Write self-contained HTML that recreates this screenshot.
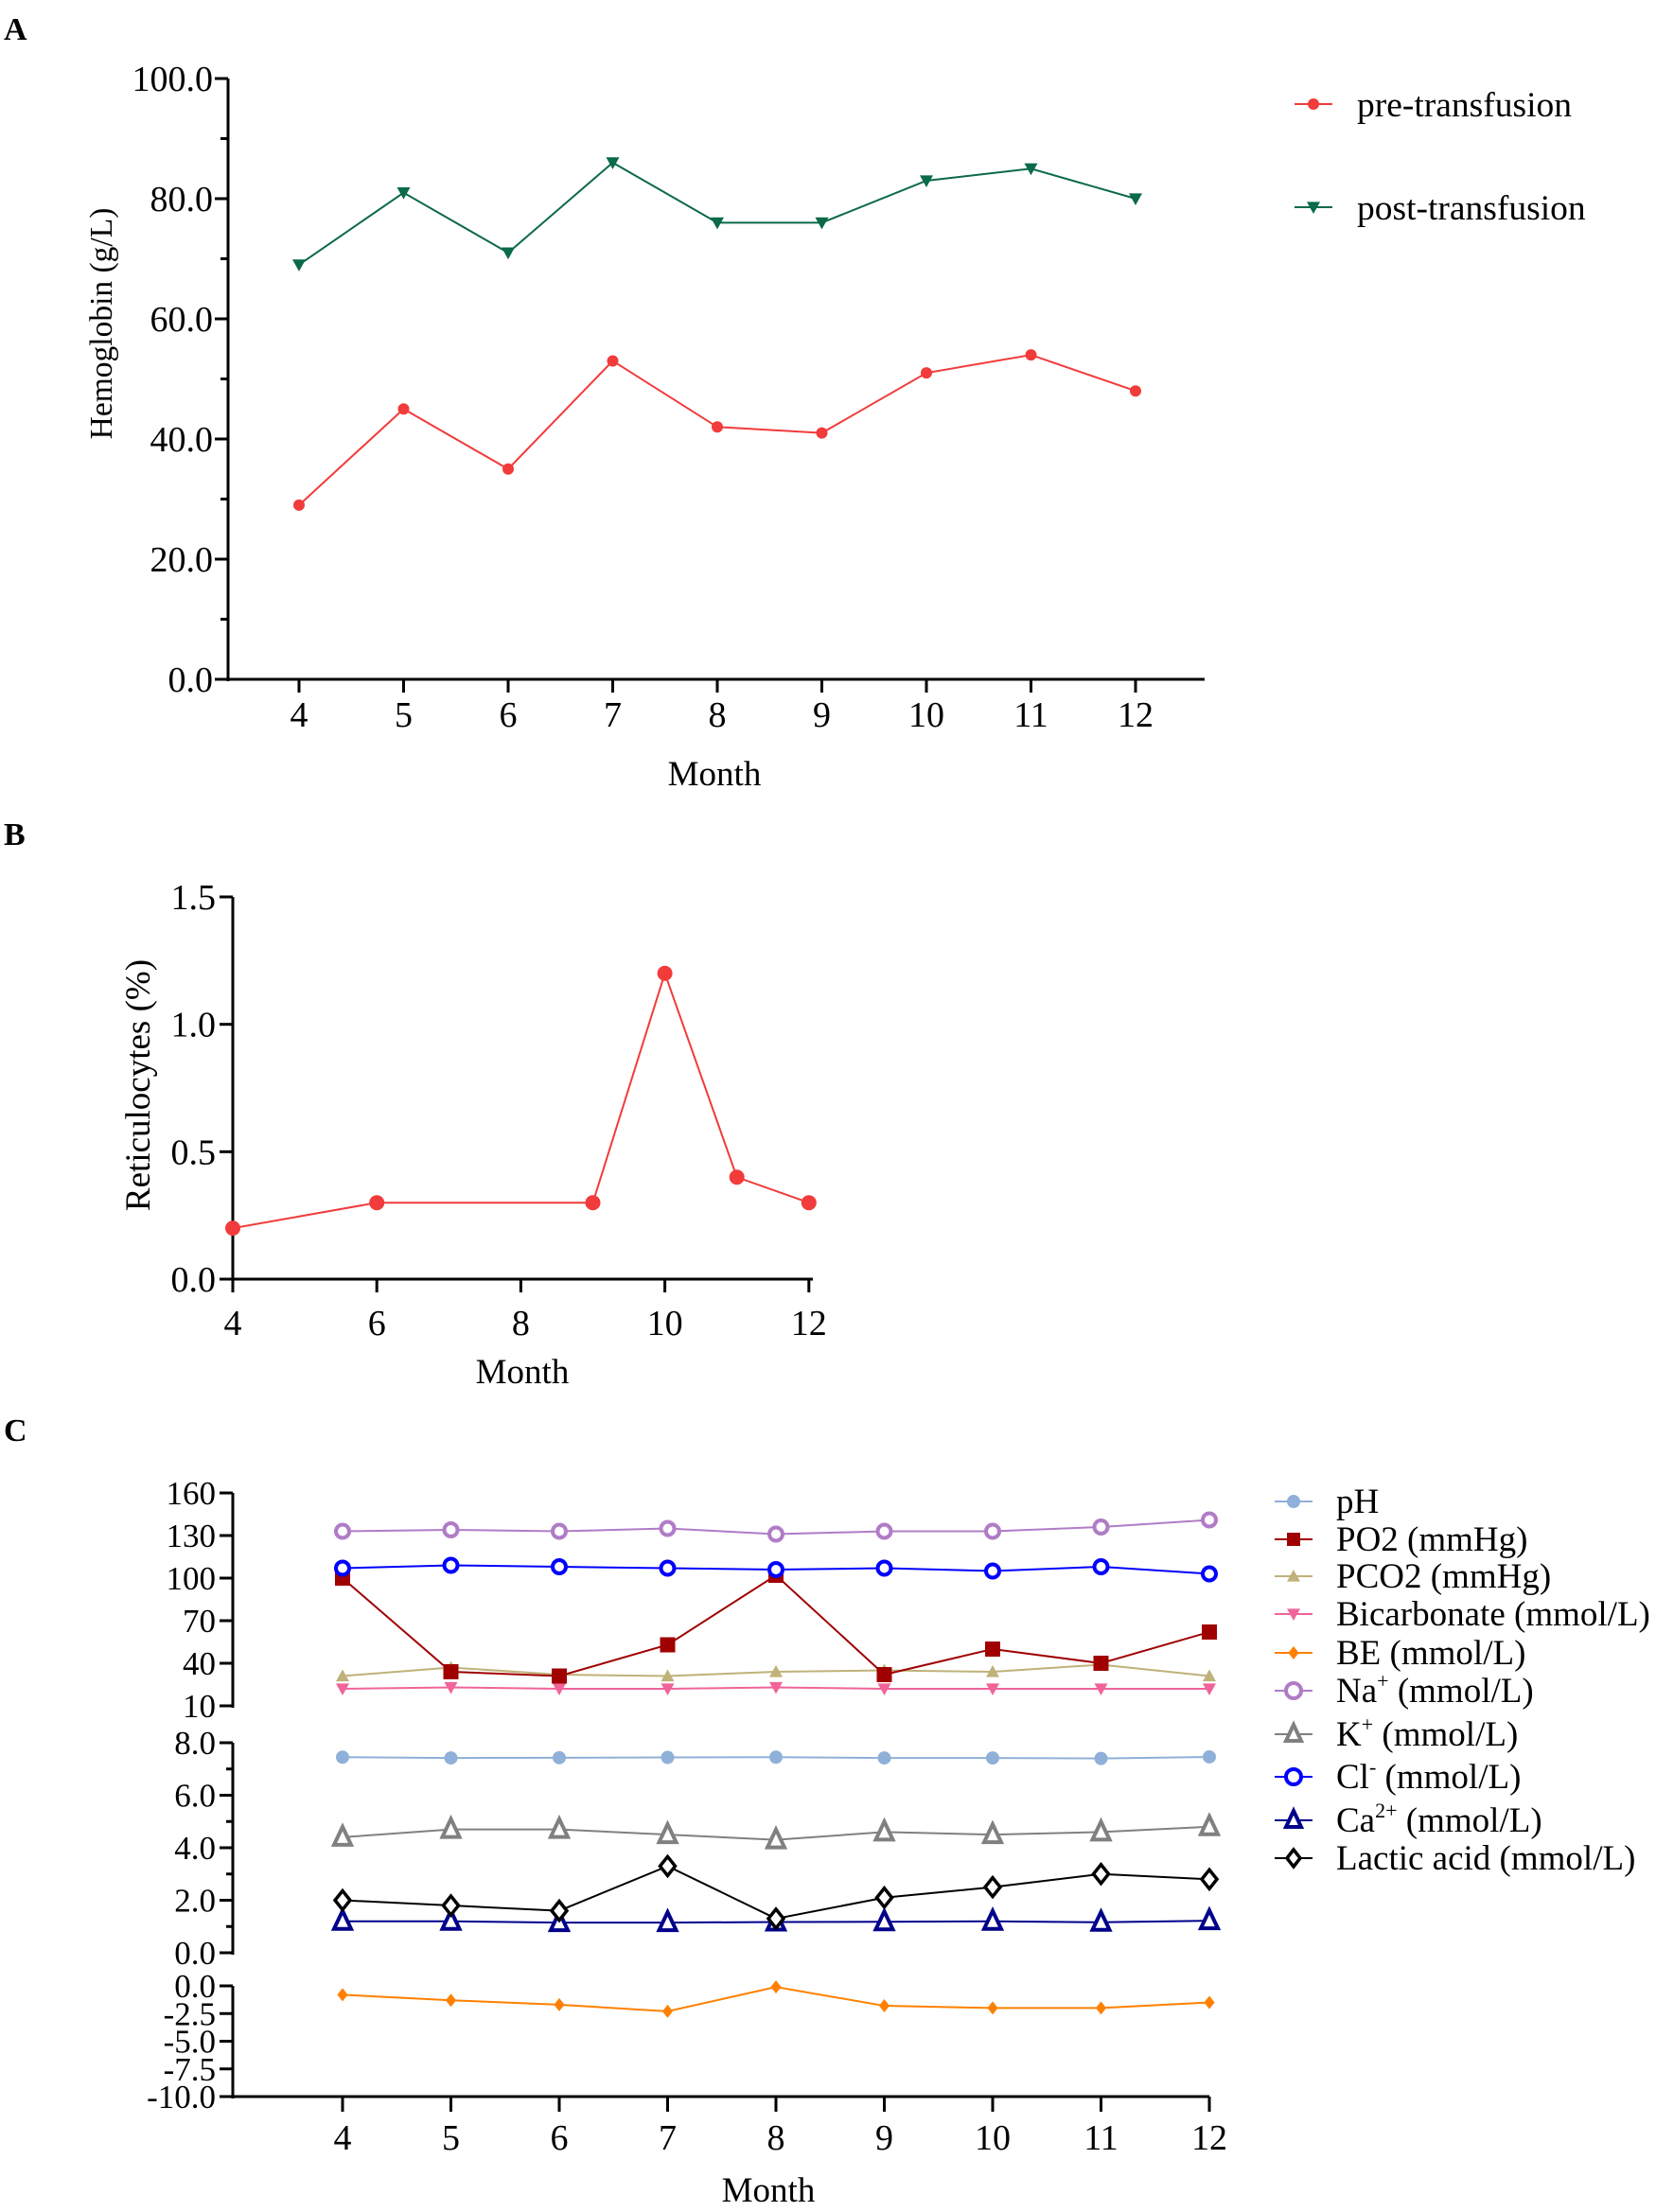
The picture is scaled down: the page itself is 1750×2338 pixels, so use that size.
<!DOCTYPE html>
<html><head><meta charset="utf-8"><style>
html,body{margin:0;padding:0;background:#fff}
svg{display:block}
text{font-family:"Liberation Serif",serif;fill:#000}
</style></head><body>
<svg id="s" width="1750" height="2338" xmlns="http://www.w3.org/2000/svg"></svg>
<script>
const S=document.getElementById('s');let h='';
function t(x,y,s,fs,anc,extra){h+=`<text x="${x}" y="${y}" font-size="${fs}" text-anchor="${anc||'start'}" ${extra||''}>${s}</text>`;}
function l(x1,y1,x2,y2,c,w){h+=`<line x1="${x1}" y1="${y1}" x2="${x2}" y2="${y2}" stroke="${c||'#000'}" stroke-width="${w||3}"/>`;}
function mk(type,x,y,c,r){r=r||7;
 if(type=='c')h+=`<circle cx="${x}" cy="${y}" r="${r}" fill="${c}"/>`;
 if(type=='oc')h+=`<circle cx="${x}" cy="${y}" r="${r+1}" fill="#fff" stroke="${c}" stroke-width="4"/>`;
 if(type=='s')h+=`<rect x="${x-r}" y="${y-r}" width="${2*r}" height="${2*r}" fill="${c}"/>`;
 if(type=='tu')h+=`<polygon points="${x},${y-r} ${x-r},${y+r*0.8} ${x+r},${y+r*0.8}" fill="${c}"/>`;
 if(type=='td')h+=`<polygon points="${x},${y+r} ${x-r},${y-r*0.8} ${x+r},${y-r*0.8}" fill="${c}"/>`;
 if(type=='ot')h+=`<polygon points="${x},${y-r-3} ${x-r-1},${y+r} ${x+r+1},${y+r}" fill="#fff" stroke="${c}" stroke-width="4"/>`;
 if(type=='d')h+=`<polygon points="${x},${y-r} ${x-r*0.8},${y} ${x},${y+r} ${x+r*0.8},${y}" fill="${c}"/>`;
 if(type=='od')h+=`<polygon points="${x},${y-r-2} ${x-r},${y} ${x},${y+r+2} ${x+r},${y}" fill="#fff" stroke="${c}" stroke-width="3.5"/>`;
}
function series(xs,ys,c,type,r,w){h+=`<polyline fill="none" stroke="${c}" stroke-width="${w||2}" points="${xs.map((x,i)=>x+','+ys[i]).join(' ')}"/>`;xs.forEach((x,i)=>mk(type,x,ys[i],c,r));}
const TF=38;
// Panel A
t(4,42,'A',34,'start','font-weight="bold"');
const ax=241,ay0=718,ay1=83,ys=(ay0-ay1)/100;
l(ax,ay1,ax,ay0+2);l(ax-2,ay0,1273,ay0);
for(let v=0;v<=100;v+=10){const y=ay0-v*ys;l(ax-(v%20?8:14),y,ax,y);if(v%20==0)t(ax-16,y+13,v.toFixed(1),TF,'end');}
const axX=i=>316+i*110.5;
for(let i=0;i<9;i++){l(axX(i),ay0,axX(i),ay0+14);t(axX(i),768,i+4,TF,'middle');}
t(755,830,'Month',37,'middle');
t(118,342,'Hemoglobin (g/L)',33.5,'middle','transform="rotate(-90 118 342)"');
const xsA=[...Array(9)].map((_,i)=>axX(i));
series(xsA,[69,81,71,86,76,76,83,85,80].map(v=>ay0-v*ys),'#0b6a47','td',7);
series(xsA,[29,45,35,53,42,41,51,54,48].map(v=>ay0-v*ys),'#f23b3b','c',6);
l(1368,110,1408,110,'#f23b3b',2);mk('c',1388,110,'#f23b3b',6);t(1434,123,'pre-transfusion',37.5);
l(1368,219,1408,219,'#0b6a47',2);mk('td',1388,219,'#0b6a47',7);t(1434,232,'post-transfusion',37.5);
// Panel B
t(4,893,'B',34,'start','font-weight="bold"');
const bx=246,by0=1352,by1=948,bys=(by0-by1)/1.5,bX=m=>246+(m-4)*76.1;
l(bx,by1,bx,by0+2);l(bx-2,by0,859,by0);
for(let v=0;v<=1.5;v+=0.5){const y=by0-v*bys;l(bx-14,y,bx,y);t(bx-18,y+13,v.toFixed(1),TF,'end');}
for(let m=4;m<=12;m+=2){l(bX(m),by0,bX(m),by0+14);t(bX(m),1411,m,TF,'middle');}
t(552,1462,'Month',37,'middle');
t(158,1147,'Reticulocytes (%)',37,'middle','transform="rotate(-90 158 1147)"');
series([4,6,9,10,11,12].map(bX),[0.2,0.3,0.3,1.2,0.4,0.3].map(v=>by0-v*bys),'#f23b3b','c',8);
// Panel C
t(4,1523,'C',34,'start','font-weight="bold"');
const cx=246,cX=i=>362+i*114.5,xsC=[...Array(9)].map((_,i)=>cX(i));
const T=v=>1803-(v-10)*1.5, M=v=>2064-v*27.75, B=v=>2099-v*11.7;
l(cx,1578,cx,1805);for(let v=10;v<=160;v+=30){l(cx-14,T(v),cx,T(v));t(cx-18,T(v)+12,v,35,'end');}
l(cx,1842,cx,2066);for(let v=0;v<=8;v++){l(cx-(v%2?7:14),M(v),cx,M(v));if(v%2==0)t(cx-18,M(v)+12,v.toFixed(1),35,'end');}
l(cx,2099,cx,2218);for(let v=0;v>=-10;v-=2.5){l(cx-14,B(v),cx,B(v));t(cx-18,B(v)+12,v.toFixed(1),35,'end');}
l(cx-2,2216,1278,2216);
for(let i=0;i<9;i++){l(cX(i),2216,cX(i),2232);t(cX(i),2272,i+4,TF,'middle');}
t(812,2327,'Month',37,'middle');
series(xsC,[22,23,22,22,23,22,22,22,22].map(T),'#f0649a','td',7);
series(xsC,[31,37,32,31,34,35,34,39,31].map(T),'#bfb27a','tu',7);
series(xsC,[100,34,31,53,102,32,50,40,62].map(T),'#a00000','s',8);
series(xsC,[107,109,108,107,106,107,105,108,103].map(T),'#0000ff','oc',6);
series(xsC,[133,134,133,135,131,133,133,136,141].map(T),'#b07cc6','oc',6);
series(xsC,[7.45,7.42,7.43,7.44,7.45,7.42,7.42,7.40,7.46].map(M),'#8fb0d8','c',7);
series(xsC,[4.4,4.7,4.7,4.5,4.3,4.6,4.5,4.6,4.8].map(M),'#808080','ot',8);
series(xsC,[1.2,1.2,1.15,1.15,1.17,1.18,1.2,1.16,1.22].map(M),'#00008b','ot',8);
series(xsC,[2.0,1.8,1.6,3.3,1.3,2.1,2.5,3.0,2.8].map(M),'#000','od',8);
series(xsC,[-0.8,-1.3,-1.7,-2.3,-0.1,-1.8,-2.0,-2.0,-1.5].map(B),'#ff8000','d',7);
const sp=(s)=>`<tspan font-size="22" dy="-15">${s}</tspan><tspan dy="15"> (mmol/L)</tspan>`;
const leg=[['c','#8fb0d8','pH'],['s','#a00000','PO2 (mmHg)'],['tu','#bfb27a','PCO2 (mmHg)'],['td','#f0649a','Bicarbonate (mmol/L)'],['d','#ff8000','BE (mmol/L)'],['oc','#b07cc6','Na'+sp('+')],['ot','#808080','K'+sp('+')],['oc','#0000ff','Cl'+sp('-')],['ot','#00008b','Ca'+sp('2+')],['od','#000','Lactic acid (mmol/L)']];
const ly=[1587,1627,1666,1706,1747,1787,1833,1878,1924,1964];
leg.forEach((g,i)=>{l(1347,ly[i],1387,ly[i],g[1],2);mk(g[0],1367,ly[i],g[1],7);t(1412,ly[i]+12,g[2],37);});
S.innerHTML=h;
</script>
</body></html>
